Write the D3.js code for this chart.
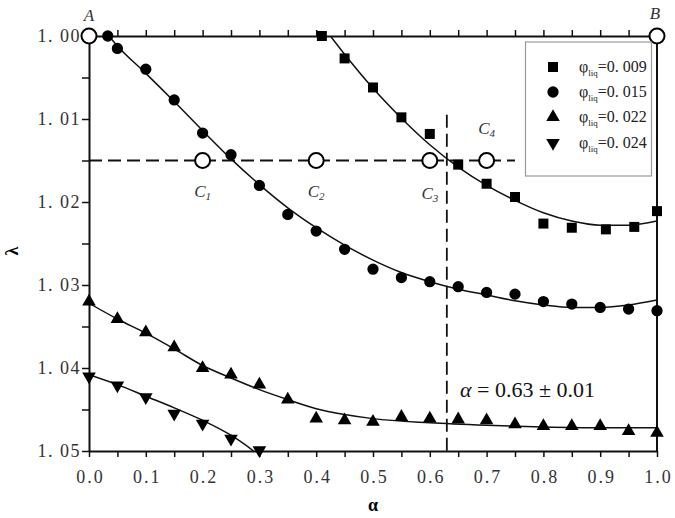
<!DOCTYPE html>
<html>
<head>
<meta charset="utf-8">
<script src="https://cdn.jsdelivr.net/npm/d3@7"></script>
<style>
  body { margin: 0; background: #fff; }
  svg { display: block; }
  .tick text { font-family: "Liberation Serif", "DejaVu Serif", serif; fill: #333; }
</style>
</head>
<body>
<svg id="chart" width="675" height="518"></svg>
<script>
// measured points, [alpha, lambda]
const phi009 = [[0.41,1.0000],[0.45,1.0027],[0.50,1.0062],[0.55,1.0098],[0.60,1.0118],[0.65,1.0155],
  [0.70,1.0178],[0.75,1.0194],[0.80,1.0226],[0.85,1.0231],[0.91,1.0233],[0.96,1.0230],[1.00,1.0211]];
const phi015 = [[0.033,1.0000],[0.05,1.0015],[0.10,1.0040],[0.15,1.0077],[0.20,1.0117],[0.25,1.0143],
  [0.30,1.0180],[0.35,1.0215],[0.40,1.0235],[0.45,1.0257],[0.50,1.0281],[0.55,1.0291],[0.60,1.0296],
  [0.65,1.0302],[0.70,1.0309],[0.75,1.0311],[0.80,1.0320],[0.85,1.0323],[0.90,1.0327],[0.95,1.0329],[1.00,1.0331]];
const phi022 = [[0.00,1.0320],[0.05,1.0341],[0.10,1.0357],[0.15,1.0375],[0.20,1.0400],[0.25,1.0408],
  [0.30,1.0420],[0.35,1.0438],[0.40,1.0461],[0.45,1.0463],[0.50,1.0465],[0.55,1.0459],[0.60,1.0461],
  [0.65,1.0462],[0.70,1.0463],[0.75,1.0468],[0.80,1.0470],[0.85,1.0470],[0.90,1.0470],[0.95,1.0476],[1.00,1.0478]];
const phi024 = [[0.00,1.0410],[0.05,1.0421],[0.10,1.0435],[0.15,1.0455],[0.20,1.0467],[0.25,1.0485],[0.30,1.0499]];

// fitted curves
const fit009 = [[0.425,1.0000],[0.45,1.0022],[0.50,1.0063],[0.55,1.0099],[0.60,1.0131],[0.65,1.0158],
  [0.70,1.0180],[0.75,1.0198],[0.80,1.0213],[0.85,1.0223],[0.90,1.0228],[0.95,1.0228],[1.00,1.0223]];
const fit015 = [[0.035,1.0000],[0.05,1.0012],[0.10,1.0045],[0.15,1.0079],[0.20,1.0114],[0.25,1.0148],
  [0.30,1.0179],[0.35,1.0207],[0.40,1.0231],[0.45,1.0252],[0.50,1.0270],[0.55,1.0285],[0.60,1.0296],
  [0.65,1.0305],[0.70,1.0312],[0.75,1.0319],[0.80,1.0324],[0.85,1.0327],[0.90,1.0327],[0.95,1.0324],[1.00,1.0318]];
const fit022 = [[0.00,1.0322],[0.05,1.0341],[0.10,1.0358],[0.15,1.0377],[0.20,1.0397],[0.25,1.0412],
  [0.30,1.0426],[0.35,1.0438],[0.40,1.0449],[0.45,1.0456],[0.50,1.0461],[0.60,1.0466],[0.70,1.0469],
  [0.80,1.0471],[0.90,1.0472],[1.00,1.0472]];
const fit024 = [[0.00,1.0408],[0.05,1.0420],[0.10,1.0434],[0.15,1.0448],[0.20,1.0463],[0.25,1.0481],[0.29,1.0500]];

const legendLabels = ["0. 009", "0. 015", "0. 022", "0. 024"];
const markerTypes = ["square", "circle", "triangle", "triangleDown"];

// special states on lambda = 1.015 and the ends
const openPoints = [
  {name: "A", sub: "", a: 0.0, l: 1.000},
  {name: "B", sub: "", a: 1.0, l: 1.000},
  {name: "C", sub: "1", a: 0.2, l: 1.015},
  {name: "C", sub: "2", a: 0.4, l: 1.015},
  {name: "C", sub: "3", a: 0.6, l: 1.015},
  {name: "C", sub: "4", a: 0.7, l: 1.015}
];
const lambdaLine = 1.015, lambdaLineEnd = 0.75;
const alphaCrit = 0.63, alphaCritTop = 1.0095;

const svg = d3.select("#chart");
const x = d3.scaleLinear().domain([0, 1]).range([89, 657]);
const y = d3.scaleLinear().domain([1.00, 1.05]).range([36, 451]);

const serif = "'Liberation Serif', 'DejaVu Serif', serif";

// clip
svg.append("clipPath").attr("id", "clip")
  .append("rect").attr("x", 89).attr("y", 36).attr("width", 568).attr("height", 415);

// axes
let xt = d3.range(0, 21).map(i => i * 0.05);
let xBottom = svg.append("g").attr("transform", "translate(0,451)")
  .call(d3.axisBottom(x).tickValues(xt).tickSize(6).tickSizeOuter(0).tickPadding(13)
    .tickFormat((d, i) => i % 2 === 0 ? d3.format(".1f")(d) : ""));
xBottom.selectAll("text").attr("font-size", 18).attr("letter-spacing", 2).attr("dx", 1);

let xTop = svg.append("g").attr("transform", "translate(0,36)")
  .call(d3.axisTop(x).tickValues(xt).tickSize(6).tickSizeOuter(0).tickFormat(""));

let yt = d3.range(0, 11).map(i => 1 + i * 0.005);
let yLeft = svg.append("g").attr("transform", "translate(89,0)")
  .call(d3.axisLeft(y).tickValues(yt).tickSize(7).tickSizeOuter(0).tickPadding(1)
    .tickFormat((d, i) => i % 2 === 0 ? d3.format(".2f")(d).replace(".", ". ") : ""));
yLeft.selectAll("text").attr("font-size", 18).attr("letter-spacing", 1.5);

svg.append("line").attr("x1", 657).attr("x2", 657).attr("y1", 36).attr("y2", 451)
  .attr("stroke", "#111").attr("stroke-width", 2);

svg.selectAll(".domain").attr("stroke", "#111").attr("stroke-width", 2);
svg.selectAll(".tick line").attr("stroke", "#111").attr("stroke-width", 1.5);

// axis titles
svg.append("text").attr("transform", "translate(14,251) rotate(-90)")
  .attr("text-anchor", "middle").attr("dominant-baseline", "middle")
  .attr("font-family", serif).attr("font-size", 18).attr("font-weight", "bold").text("λ");
svg.append("text").attr("x", 373).attr("y", 511).attr("text-anchor", "middle")
  .attr("font-family", serif).attr("font-size", 18).attr("font-weight", "bold").text("α");

// dashed guide lines
svg.append("line")
  .attr("x1", x(0)).attr("x2", x(lambdaLineEnd)).attr("y1", y(lambdaLine)).attr("y2", y(lambdaLine))
  .attr("stroke", "#111").attr("stroke-width", 1.8).attr("stroke-dasharray", "13,6");
svg.append("line")
  .attr("x1", x(alphaCrit)).attr("x2", x(alphaCrit)).attr("y1", y(alphaCritTop)).attr("y2", y(1.05))
  .attr("stroke", "#111").attr("stroke-width", 1.8).attr("stroke-dasharray", "13,6");

// fitted curves
let line = d3.line().x(d => x(d[0])).y(d => y(d[1])).curve(d3.curveMonotoneX);
let plot = svg.append("g").attr("clip-path", "url(#clip)");
[fit009, fit015, fit022, fit024].forEach(f => {
  plot.append("path").attr("d", line(f)).attr("fill", "none")
    .attr("stroke", "#111").attr("stroke-width", 1.5);
});

// markers
function symbolFor(t) {
  if (t === "square") return d3.symbol().type(d3.symbolSquare).size(100)();
  if (t === "circle") return d3.symbol().type(d3.symbolCircle).size(100)();
  return d3.symbol().type(d3.symbolTriangle).size(80)();
}
let series = [phi009, phi015, phi022, phi024];
let marks = svg.append("g");
series.forEach((s, i) => {
  marks.selectAll(null).data(s).enter().append("path")
    .attr("d", symbolFor(markerTypes[i]))
    .attr("transform", d => "translate(" + x(d[0]) + "," + y(d[1]) + ")" + (markerTypes[i] === "triangleDown" ? " rotate(180)" : ""))
    .attr("fill", "#000");
});

// open circles and letters
let opens = svg.append("g");
opens.selectAll("circle").data(openPoints).enter().append("circle")
  .attr("cx", d => x(d.a)).attr("cy", d => y(d.l)).attr("r", 7.5)
  .attr("fill", "#fff").attr("stroke", "#000").attr("stroke-width", 2);

const labelPos = [[0, -15], [-2, -17], [0, 36], [0, 36], [0, 38], [0, -27]];
openPoints.forEach((p, i) => {
  let t = svg.append("text")
    .attr("x", x(p.a) + labelPos[i][0]).attr("y", y(p.l) + labelPos[i][1])
    .attr("text-anchor", "middle").attr("font-family", serif).attr("font-style", "italic")
    .attr("font-size", 17).attr("fill", "#333").text(p.name);
  if (p.sub) t.append("tspan").attr("font-size", 11).attr("dy", 3).text(p.sub);
});

// annotation
let ann = svg.append("text").attr("x", 460).attr("y", 397)
  .attr("font-family", serif).attr("font-size", 22).attr("fill", "#111");
ann.append("tspan").attr("font-style", "italic").text("α");
ann.append("tspan").text(" = 0.63 ± 0.01");

// legend
let lg = svg.append("g");
lg.append("rect").attr("x", 525.5).attr("y", 42).attr("width", 126).attr("height", 134)
  .attr("fill", "#fff").attr("stroke", "#999").attr("stroke-width", 1.2);
const rowY = [67, 92, 117, 143];
legendLabels.forEach((lab, i) => {
  lg.append("path").attr("d", symbolFor(markerTypes[i]))
    .attr("transform", "translate(553," + rowY[i] + ")" + (markerTypes[i] === "triangleDown" ? " rotate(180)" : ""))
    .attr("fill", "#000");
  let t = lg.append("text").attr("x", 579).attr("y", rowY[i] + 5)
    .attr("font-family", serif).attr("font-size", 16).attr("fill", "#222");
  t.append("tspan").text("φ");
  t.append("tspan").attr("font-size", 9).attr("dy", 4).text("liq");
  t.append("tspan").attr("dy", -4).text("=" + lab);
});
</script>
</body>
</html>
